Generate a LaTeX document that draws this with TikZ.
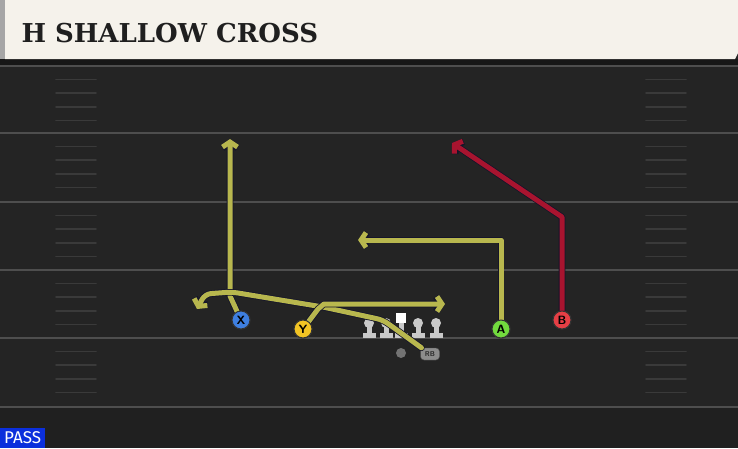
\documentclass[tikz,border=0pt]{standalone}
\usepackage{fontspec}
\newfontfamily\titlefont{DejaVu Serif}
\newfontfamily\tagfont{Fira Sans}
\usetikzlibrary{positioning}
\usetikzlibrary{calc}
\usetikzlibrary{arrows.meta}
\definecolor{fieldbg}{HTML}{242424}
\definecolor{yardln}{HTML}{3A3A3A}
\definecolor{headbg}{HTML}{F5F2EB}
\definecolor{routeyel}{HTML}{B8B74E}
\definecolor{routered}{HTML}{A8142F}
\definecolor{outln}{HTML}{15152A}
\definecolor{xblue}{HTML}{3E7FE0}
\definecolor{yyel}{HTML}{F2C424}
\definecolor{agreen}{HTML}{72DA3E}
\definecolor{bred}{HTML}{E63F45}
\definecolor{olgray}{HTML}{C9C9C9}
\definecolor{passblue}{HTML}{0B2FDC}

\begin{document}
\begin{tikzpicture}[x=1pt, y=-1pt, line cap=round, line join=round,
	route/.style={draw=#1, line width=5pt, -{Straight Barb[length=5pt,width=15pt]},
		preaction={draw=outln, line width=6.6pt, -{Straight Barb[length=5pt,width=15pt]}}},
	player/.style={circle, draw=black!80, line width=1pt, fill=#1, minimum size=18pt, inner sep=0pt,
		font=\sffamily\bfseries\fontsize{12}{12}\selectfont},
	hash/.style={draw=yardln, line width=1.6pt},
	yard/.style={draw=yardln!90!white, line width=2pt}]
	\useasboundingbox (0,0) rectangle (738,448);
	\fill [fieldbg] (0,0) rectangle (738,448);
	\fill [fieldbg!88!black] (0,407) rectangle (738,448);
	\foreach \yl in {66,133,202,270,338,407} {
		\draw [yard] (0,\yl) -- (738,\yl);
	}
	\foreach \yl in {66,133,202,270,338} {
		\foreach \k in {1,2,3,4} {
			\draw [hash] (56,\yl+13.6*\k) -- (96,\yl+13.6*\k);
			\draw [hash] (646,\yl+13.6*\k) -- (686,\yl+13.6*\k);
		}
	}
	\fill [fieldbg!65!black] (0,59) rectangle (738,65);
	\fill [headbg] (5,0) -- (738,0) -- (738,53) -- (735,59) -- (5,59) -- cycle;
	\fill [black!35] (0,0) rectangle (5,59);
	\node [anchor=base west, text=black!88, font=\titlefont\bfseries\fontsize{26}{26}\selectfont] (title) at (18,42) {H SHALLOW CROSS};
	\node [anchor=south west, fill=passblue, text=white, inner xsep=3pt, inner ysep=0pt, minimum width=45pt, minimum height=20pt,
		font=\tagfont\fontsize{17}{17}\selectfont] (play) at (0,448) {PASS};

	\foreach \lx in {369,386,418,436} {
		\fill [olgray] (\lx-6.5,332.5) rectangle (\lx+6.5,337.5);
		\fill [olgray] (\lx-2.5,324) rectangle (\lx+2.5,334);
		\fill [olgray] (\lx,323) circle (5);
	}
	\fill [olgray] (394.5,332.5) rectangle (407.5,337.5);
	\fill [olgray] (398.5,320) rectangle (403.5,334);
	\node [fill=white, minimum size=10pt, inner sep=0pt] (C) at (401,318) {};
	\node [circle, fill=black!55, minimum size=10pt, inner sep=0pt] (QB) at (401,353) {};
	\node [rounded corners=3.5pt, fill=black!45, draw=black!70, minimum width=19pt, minimum height=12pt, inner sep=0pt,
		font=\sffamily\bfseries\fontsize{7}{7}\selectfont, text=black!85] (RB) at (430,354) {RB};

	\node [player=xblue] (X) at (241,320) {X};
	\node [player=yyel] (Y) at (303,329) {Y};
	\node [player=agreen] (A) at (501,329) {A};
	\node [player=bred] (B) at (562,320) {B};

	\draw [route=routeyel] (X) -- (230,296) -- (230,139);
	\draw [route=routeyel, rounded corners=6pt] (RB) -- (408,338) -- (383,320) -- (323,307) -- (232,292) -- (205,294) -- (197,309);
	\draw [route=routeyel] (Y) -- (318,309) -- (324,304) -- (445,304);
	\draw [route=routeyel] (A) -- (501,240) -- (358,240);
	\draw [route=routered] (B) -- (562,217) -- (452,143);
	\node [player=xblue] at (X) {X};
	\node [player=yyel] at (Y) {Y};
	\node [player=agreen] at (A) {A};
	\node [player=bred] at (B) {B};
\end{tikzpicture}
\end{document}
